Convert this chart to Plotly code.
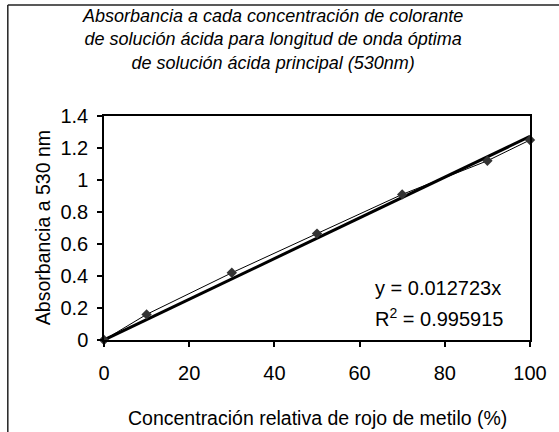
import plotly.graph_objects as go

# Relative methyl red concentration (%) and measured absorbance at 530 nm
concentracion = [0, 10, 30, 50, 70, 90, 100]
absorbancia = [0, 0.16, 0.42, 0.665, 0.91, 1.12, 1.25]

# Linear fit through the origin
pendiente = 0.012723
r2 = 0.995915
x_ajuste = [0, 100]
y_ajuste = [pendiente * v for v in x_ajuste]

x_ticks = [0, 20, 40, 60, 80, 100]
y_ticks = [0, 0.2, 0.4, 0.6, 0.8, 1.0, 1.2, 1.4]
y_tick_text = ["0", "0.2", "0.4", "0.6", "0.8", "1", "1.2", "1.4"]

FONT = "Liberation Sans, Arial, sans-serif"

W, H = 559, 432
ML, MR, MT, MB = 104, 21, 116, 92
PW = W - ML - MR
PH = H - MT - MB


def px(xp):
    return (xp - ML) / PW


def py(yp):
    return (H - MB - yp) / PH


fig = go.Figure()

fig.add_trace(go.Scatter(
    x=x_ajuste, y=y_ajuste, mode="lines",
    line=dict(color="black", width=3),
    hoverinfo="skip", showlegend=False, cliponaxis=False,
))

fig.add_trace(go.Scatter(
    x=concentracion, y=absorbancia, mode="lines+markers",
    line=dict(color="black", width=1),
    marker=dict(symbol="diamond", size=8, color="#333333",
                line=dict(width=0)),
    showlegend=False, cliponaxis=False,
))

axis_common = dict(
    showgrid=False, zeroline=False,
    showline=True, linecolor="black", linewidth=1.5, mirror=True,
    ticks="outside", ticklen=5, tickwidth=1.5, tickcolor="black",
    tickfont=dict(family=FONT, size=20, color="black"),
)

fig.update_xaxes(range=[0, 100], tickvals=x_ticks,
                 ticklabelstandoff=9, **axis_common)
fig.update_yaxes(range=[0, 1.4], tickvals=y_ticks, ticktext=y_tick_text,
                 ticklabelstandoff=5, **axis_common)

annotations = [
    dict(text="<i>Absorbancia a cada concentración de colorante<br>"
              "de solución ácida para longitud de onda óptima<br>"
              "de solución ácida principal (530nm)</i>",
         x=px(276), y=py(39), xanchor="center", yanchor="middle",
         font=dict(family=FONT, size=18, color="black")),
    dict(text="Concentración relativa de rojo de metilo (%)",
         x=0.5, y=py(418), xanchor="center", yanchor="middle",
         font=dict(family=FONT, size=19.5, color="black")),
    dict(text="Absorbancia a 530 nm", textangle=-90,
         x=px(42), y=0.5, xanchor="center", yanchor="middle",
         font=dict(family=FONT, size=19.5, color="black")),
    dict(text=f"y = {pendiente:.6f}x",
         x=px(378), y=py(288), xanchor="left", yanchor="middle",
         font=dict(family=FONT, size=20, color="black")),
    dict(text=f"R<sup>2</sup> = {r2:.6f}",
         x=px(378), y=py(317), xanchor="left", yanchor="middle",
         font=dict(family=FONT, size=20, color="black")),
]
for a in annotations:
    a.update(xref="paper", yref="paper", showarrow=False)

# Outer chart frame
frame = [
    dict(type="line", x0=px(6), x1=px(6), y0=py(5), y1=py(H + 10)),
    dict(type="line", x0=px(6), x1=px(W + 10), y0=py(5), y1=py(5)),
]
for s in frame:
    s.update(xref="paper", yref="paper", line=dict(color="#222222", width=1.5))

fig.update_layout(
    width=W, height=H,
    margin=dict(l=ML, r=MR, t=MT, b=MB, pad=0),
    paper_bgcolor="white", plot_bgcolor="white",
    annotations=annotations, shapes=frame,
    font=dict(family=FONT, color="black"),
)

fig.write_html("out.html")
